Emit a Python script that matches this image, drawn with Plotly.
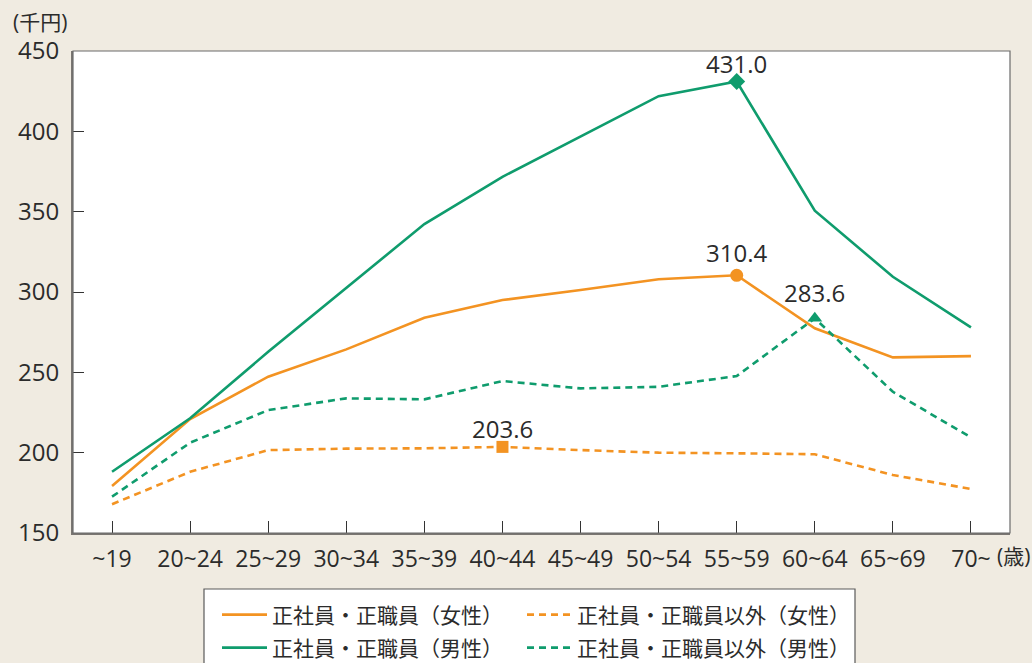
import plotly.graph_objects as go

# 年齢階級
ages = ["~19", "20~24", "25~29", "30~34", "35~39", "40~44",
        "45~49", "50~54", "55~59", "60~64", "65~69", "70~"]

# 賃金（千円）
female_regular = [179.2, 220.9, 247.3, 264.3, 284.0, 295.0, 301.2, 307.9, 310.4, 277.4, 259.3, 260.1]
male_regular = [188.1, 221.4, 262.8, 302.3, 342.3, 371.7, 397.0, 421.9, 431.0, 350.6, 309.5, 278.0]
female_nonregular = [167.9, 188.1, 201.6, 202.5, 202.7, 203.6, 201.6, 200.0, 199.6, 199.0, 186.1, 177.4]
male_nonregular = [172.6, 206.2, 226.5, 233.8, 233.2, 244.6, 240.0, 241.0, 247.7, 283.6, 237.9, 209.5]

y_ticks = [150, 200, 250, 300, 350, 400, 450]

ORANGE = "#f39322"
GREEN = "#0f9c6d"
TEXT = "#2b2b2b"
FONT = "Open Sans, Noto Sans CJK JP, sans-serif"

# plot area in pixels (figure is 1032 x 663)
L, R, T, B = 73, 1010, 51, 533
W, H = R - L, B - T


def px_x(x):
    return (x - L) / W


def px_y(y):
    return (B - y) / H


fig = go.Figure()

# each series gets its own one-entry legend so the 2x2 grid can be placed freely
series = [
    ("正社員・正職員（女性）", female_regular, ORANGE, "solid", "legend"),
    ("正社員・正職員以外（女性）", female_nonregular, ORANGE, "7px,5px", "legend2"),
    ("正社員・正職員（男性）", male_regular, GREEN, "solid", "legend3"),
    ("正社員・正職員以外（男性）", male_nonregular, GREEN, "7px,5px", "legend4"),
]
for name, vals, color, dash, lg in series:
    fig.add_trace(go.Scatter(
        x=ages, y=vals, name=name, mode="lines",
        line=dict(color=color, width=2.6, dash=dash),
        legend=lg, hoverinfo="skip",
    ))

# highlighted points with value labels: (series, index, symbol, colour, size, label offset)
highlights = [
    (male_regular, 8, "diamond", GREEN, 13, 18),
    (female_regular, 8, "circle", ORANGE, 13, 23),
    (male_nonregular, 9, "triangle-up", GREEN, 13, 26),
    (female_nonregular, 5, "square", ORANGE, 12, 18),
]
for vals, i, sym, color, size, dy in highlights:
    fig.add_trace(go.Scatter(
        x=[ages[i]], y=[vals[i]], mode="markers", showlegend=False,
        marker=dict(symbol=sym, color=color, size=size, line=dict(width=0)),
        hoverinfo="skip",
    ))
    fig.add_annotation(
        x=ages[i], y=vals[i], text=f"{vals[i]:.1f}", showarrow=False,
        yshift=dy, font=dict(size=24, color=TEXT, family=FONT),
    )

# unit labels
fig.add_annotation(xref="paper", yref="paper", x=px_x(40), y=px_y(22),
                   xanchor="center", yanchor="middle",
                   text="(千円)", showarrow=False,
                   font=dict(size=21, color=TEXT, family=FONT))
fig.add_annotation(xref="paper", yref="paper", x=px_x(1013), y=px_y(556),
                   xanchor="center", yanchor="middle",
                   text="(歳)", showarrow=False,
                   font=dict(size=21, color=TEXT, family=FONT))

# frame around the plot area and the legend box
fig.add_shape(type="rect", xref="paper", yref="paper", x0=0, x1=1, y0=0, y1=1,
              line=dict(color="#6b6b6b", width=1.2), layer="above")
fig.add_shape(type="rect", xref="paper", yref="paper",
              x0=px_x(204), x1=px_x(855), y0=px_y(589), y1=px_y(720),
              line=dict(color="#5a5a5a", width=1.2), fillcolor="white", layer="above")

legend_common = dict(
    orientation="h", xanchor="left", yanchor="middle",
    bgcolor="rgba(0,0,0,0)", borderwidth=0,
    font=dict(size=21, color=TEXT, family=FONT),
    itemwidth=45, itemclick=False, itemdoubleclick=False,
)
col1, col2 = 217, 522
row1, row2 = 615, 648

fig.update_layout(
    width=1032, height=663,
    margin=dict(l=L, r=1032 - R, t=T, b=663 - B, autoexpand=False),
    paper_bgcolor="#f0ebe1", plot_bgcolor="white",
    font=dict(family=FONT, color=TEXT, size=22),
    legend=dict(x=px_x(col1), y=px_y(row1), **legend_common),
    legend2=dict(x=px_x(col2), y=px_y(row1), **legend_common),
    legend3=dict(x=px_x(col1), y=px_y(row2), **legend_common),
    legend4=dict(x=px_x(col2), y=px_y(row2), **legend_common),
    xaxis=dict(
        type="category", range=[-0.5, 11.5],
        showline=True, linecolor="#7a7672", linewidth=2,
        ticks="inside", ticklen=12, tickwidth=1.4, tickcolor="#333333",
        showgrid=False, zeroline=False, ticklabelstandoff=4,
        tickfont=dict(size=23, color=TEXT, family=FONT),
    ),
    yaxis=dict(
        range=[150, 450], tickvals=y_ticks,
        showline=True, linecolor="#7a7672", linewidth=2,
        ticks="inside", ticklen=11, tickwidth=1.4, tickcolor="#333333",
        showgrid=False, zeroline=False, ticklabelstandoff=7,
        tickfont=dict(size=24, color=TEXT, family=FONT),
    ),
)

fig.write_html("out.html")
